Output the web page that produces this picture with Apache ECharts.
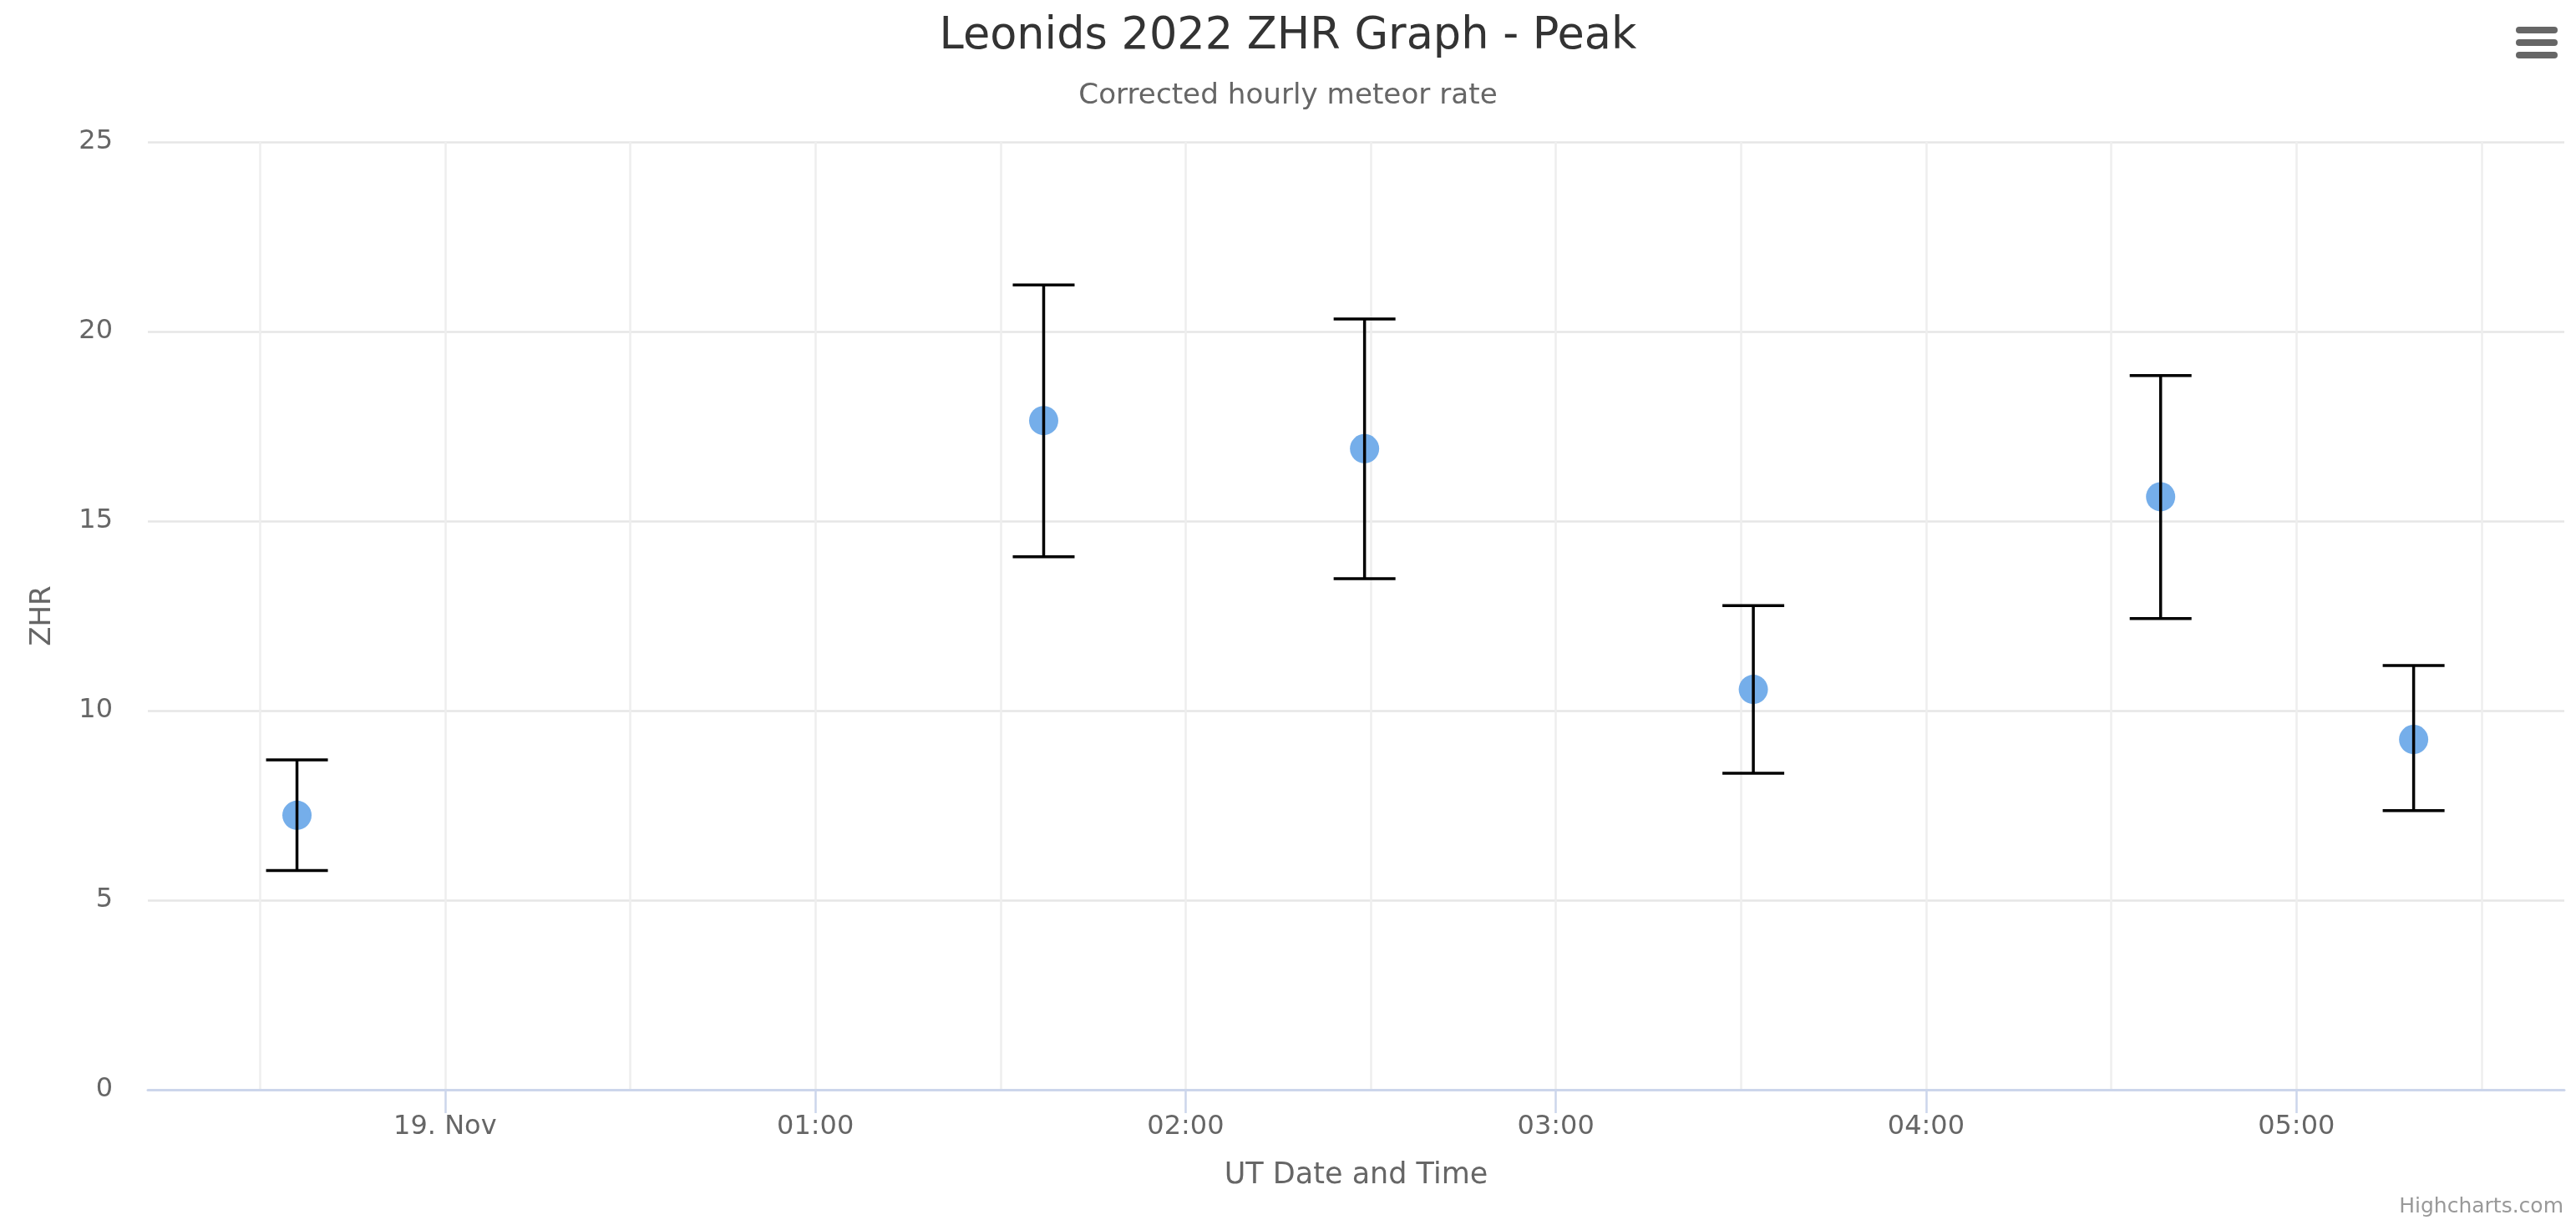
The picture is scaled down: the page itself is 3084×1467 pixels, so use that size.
<!DOCTYPE html>
<html>
<head>
<meta charset="utf-8">
<title>Leonids 2022 ZHR Graph - Peak</title>
<script src="https://cdn.jsdelivr.net/npm/echarts@6/dist/echarts.min.js"></script>
<style>
  html, body { margin: 0; padding: 0; background: #ffffff; }
  #chart { width: 3084px; height: 1467px; }
</style>
</head>
<body>
<div id="chart"></div>
<script>
// Observation times (UT) and corrected hourly rates with their error ranges
const obsTimes = [
  '2022-11-18T23:36:00Z',
  '2022-11-19T01:37:00Z',
  '2022-11-19T02:29:00Z',
  '2022-11-19T03:32:00Z',
  '2022-11-19T04:38:00Z',
  '2022-11-19T05:19:00Z'
];
const zhr     = [7.24, 17.65, 16.91, 10.56, 15.64, 9.24];
const zhrLow  = [5.78, 14.06, 13.48, 8.35, 12.43, 7.36];
const zhrHigh = [8.70, 21.23, 20.33, 12.77, 18.84, 11.19];

const yTicks = [0, 5, 10, 15, 20, 25];
const monthNames = ['Jan', 'Feb', 'Mar', 'Apr', 'May', 'Jun', 'Jul', 'Aug', 'Sep', 'Oct', 'Nov', 'Dec'];

const FONT = '"DejaVu Sans", Verdana, sans-serif';
const HALF_HOUR = 30 * 60 * 1000;
const HOUR = 60 * 60 * 1000;
const xMin = Date.parse('2022-11-18T23:11:50Z');
const xMax = Date.parse('2022-11-19T05:43:25Z');

const tMs = obsTimes.map(t => Date.parse(t));
const pointData = tMs.map((t, i) => [t, zhr[i]]);
const barData = tMs.map((t, i) => [t, zhrLow[i], zhrHigh[i]]);

function pad2(n) { return (n < 10 ? '0' : '') + n; }
function hourLabel(v) {
  const d = new Date(v);
  if (d.getUTCMinutes() !== 0 || d.getUTCSeconds() !== 0) return '';
  if (d.getUTCHours() === 0) return d.getUTCDate() + '. ' + monthNames[d.getUTCMonth()];
  return pad2(d.getUTCHours()) + ':00';
}

const chart = echarts.init(document.getElementById('chart'), null, { renderer: 'canvas' });

const option = {
  backgroundColor: '#ffffff',
  animation: false,
  title: [
    {
      text: 'Leonids 2022 ZHR Graph - Peak',
      left: 'center', top: 13,
      textStyle: { fontFamily: FONT, fontSize: 52.5, fontWeight: 'normal', color: '#333333' }
    },
    {
      text: 'Corrected hourly meteor rate',
      left: 'center', top: 93,
      textStyle: { fontFamily: FONT, fontSize: 34.2, fontWeight: 'normal', color: '#666666' }
    }
  ],
  grid: [
    { left: 177, right: 14, top: 170, bottom: 162 },
    // narrow strip under the plot carrying the hourly tick marks and labels
    { left: 177, right: 14, top: 1305, height: 28 }
  ],
  xAxis: [
    {
      type: 'value', gridIndex: 0,
      min: xMin, max: xMax,
      minInterval: HALF_HOUR, maxInterval: HALF_HOUR,
      axisLine: { show: true, lineStyle: { color: '#ccd6eb', width: 3 } },
      axisTick: { show: false },
      axisLabel: { show: false },
      splitLine: { show: true, showMinLine: false, showMaxLine: false, lineStyle: { color: '#eeeeee', width: 2.5 } }
    },
    {
      type: 'value', gridIndex: 1,
      min: xMin, max: xMax,
      minInterval: HOUR, maxInterval: HOUR,
      axisLine: { show: false },
      axisTick: { show: false },
      axisLabel: {
        show: true, margin: 1, formatter: hourLabel,
        fontFamily: FONT, fontSize: 32, color: '#666666'
      },
      splitLine: { show: true, showMinLine: false, showMaxLine: false, lineStyle: { color: '#ccd6eb', width: 2.5 } },
      name: 'UT Date and Time', nameLocation: 'middle', nameGap: 57,
      nameTextStyle: { fontFamily: FONT, fontSize: 35, color: '#666666' }
    }
  ],
  yAxis: [
    {
      type: 'value', gridIndex: 0,
      min: yTicks[0], max: yTicks[yTicks.length - 1], interval: yTicks[1] - yTicks[0],
      axisLine: { show: false },
      axisTick: { show: false },
      axisLabel: { margin: 42, fontFamily: FONT, fontSize: 32, color: '#666666' },
      splitLine: { show: true, lineStyle: { color: '#e6e6e6', width: 2.5 } },
      name: 'ZHR', nameLocation: 'middle', nameGap: 109,
      nameTextStyle: { fontFamily: FONT, fontSize: 34, color: '#666666' }
    },
    { type: 'value', gridIndex: 1, show: false, min: 0, max: 1 }
  ],
  series: [
    {
      name: 'ZHR',
      type: 'scatter',
      xAxisIndex: 0, yAxisIndex: 0,
      data: pointData,
      symbol: 'circle',
      symbolSize: 35,
      itemStyle: { color: '#75aeea', opacity: 1 },
      z: 2
    },
    {
      name: 'Error',
      type: 'custom',
      xAxisIndex: 0, yAxisIndex: 0,
      data: barData,
      encode: { x: 0, y: [1, 2] },
      z: 3,
      renderItem: function (params, api) {
        const x = api.value(0);
        const top = api.coord([x, api.value(2)]);
        const bottom = api.coord([x, api.value(1)]);
        const half = 37;
        const style = { stroke: '#000000', lineWidth: 3.5 };
        return {
          type: 'group',
          children: [
            { type: 'line', shape: { x1: top[0], y1: top[1], x2: bottom[0], y2: bottom[1] }, style: style },
            { type: 'line', shape: { x1: top[0] - half, y1: top[1], x2: top[0] + half, y2: top[1] }, style: style },
            { type: 'line', shape: { x1: bottom[0] - half, y1: bottom[1], x2: bottom[0] + half, y2: bottom[1] }, style: style }
          ]
        };
      }
    }
  ],
  graphic: [
    // context menu button
    {
      type: 'group', left: 3012, top: 32,
      children: [
        { type: 'rect', shape: { x: 0, y: 0, width: 50, height: 8, r: 4 }, style: { fill: '#666666' } },
        { type: 'rect', shape: { x: 0, y: 15, width: 50, height: 8, r: 4 }, style: { fill: '#666666' } },
        { type: 'rect', shape: { x: 0, y: 30, width: 50, height: 8, r: 4 }, style: { fill: '#666666' } }
      ]
    },
    // credits
    {
      type: 'text', right: 15, top: 1433,
      style: { text: 'Highcharts.com', fontFamily: FONT, fontSize: 25, fill: '#999999' }
    }
  ]
};

chart.setOption(option);
</script>
</body>
</html>
